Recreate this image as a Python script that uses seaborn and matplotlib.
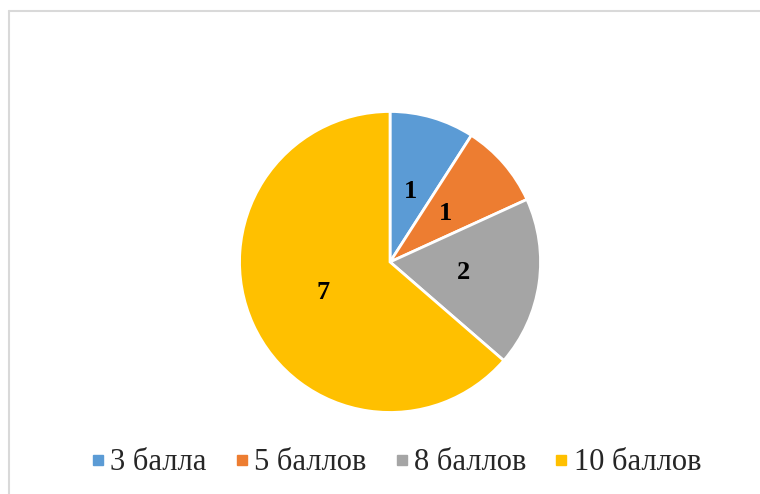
import matplotlib
matplotlib.use('Agg')
import matplotlib.pyplot as plt
from matplotlib.lines import Line2D
import seaborn as sns

# Data
labels = ['3 балла', '5 баллов', '8 баллов', '10 баллов']
counts = [1, 1, 2, 7]
colors = ['#5B9BD5', '#ED7D31', '#A5A5A5', '#FFC000']

sns.set_style('white')
plt.rcParams['font.family'] = ['Liberation Serif', 'DejaVu Serif']

fig = plt.figure(figsize=(7.6, 4.94), dpi=100)
ax = fig.add_axes([0.3132, 0.162, 0.4, 0.6154])

wedges, texts, autotexts = ax.pie(
    counts, colors=colors, startangle=90, counterclock=False,
    autopct=lambda p: f'{round(p * sum(counts) / 100):d}', pctdistance=0.49,
    wedgeprops={'edgecolor': 'white', 'linewidth': 2},
    textprops={'fontsize': 19, 'fontweight': 'bold', 'color': 'black'})
ax.set_xlim(-1.01, 1.01)
ax.set_ylim(-1.01, 1.01)
ax.set_aspect('equal')
ax.axis('off')

# Legend with small square markers
handles = [Line2D([], [], marker='s', linestyle='none', markersize=7,
                  markerfacecolor=c, markeredgecolor=c) for c in colors]
fig.legend(handles, labels, loc='center', bbox_to_anchor=(0.5217, 0.063), ncol=4,
           frameon=False, fontsize=22, handlelength=0.4, handletextpad=0.2,
           columnspacing=0.95)

# Chart area border (top and left visible)
fig.add_artist(Line2D([9 / 760, 1], [1 - 11 / 494, 1 - 11 / 494],
                      transform=fig.transFigure, color='#d9d9d9', lw=1.5))
fig.add_artist(Line2D([9 / 760, 9 / 760], [0, 1 - 11 / 494],
                      transform=fig.transFigure, color='#d9d9d9', lw=1.5))

fig.savefig('out.png', dpi=100)
